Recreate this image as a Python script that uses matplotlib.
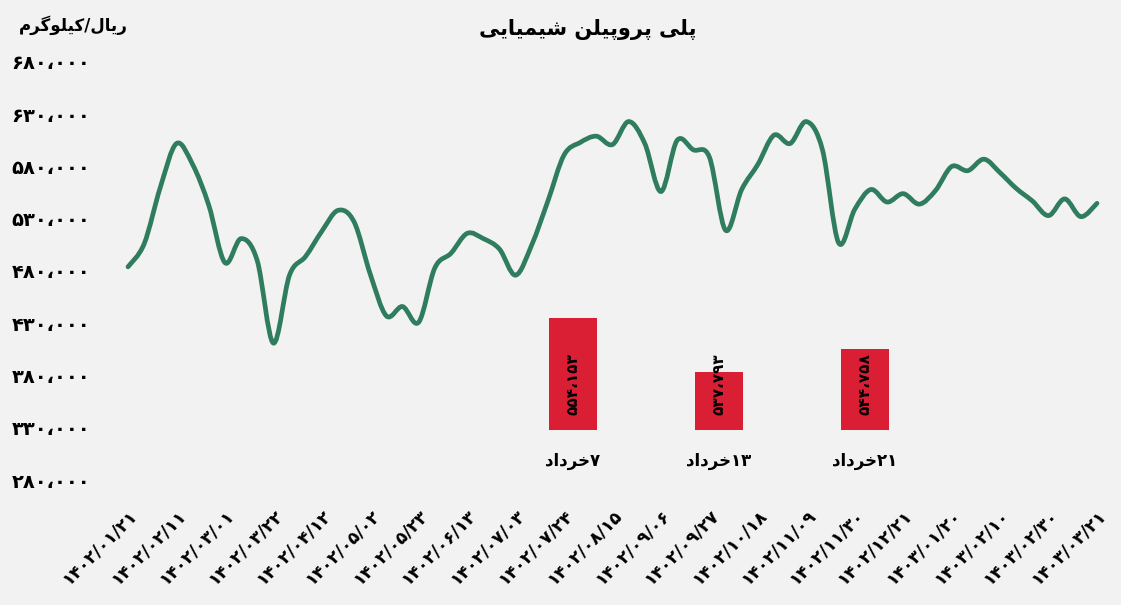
import re
import matplotlib
matplotlib.use("Agg")
import matplotlib.pyplot as plt
from matplotlib.path import Path
from matplotlib.patches import PathPatch

# ---- data ----
title = "پلی پروپیلن شیمیایی"
unit = "ریال/کیلوگرم"

date_labels = [
    "1402/01/21", "1402/02/11", "1402/03/01", "1402/03/22", "1402/04/12",
    "1402/05/02", "1402/05/23", "1402/06/13", "1402/07/03", "1402/07/24",
    "1402/08/15", "1402/09/06", "1402/09/27", "1402/10/18", "1402/11/09",
    "1402/11/30", "1402/12/21", "1403/01/20", "1403/02/10", "1403/02/30",
    "1403/03/21",
]
label_step = 3

prices = [
    484000, 506000, 560000, 602000, 582000, 543000, 488000, 511000, 490000, 411000,
    476000, 494000, 518000, 538000, 527000, 477000, 437000, 446000, 431000, 483000,
    497000, 516000, 511000, 501000, 476000, 505000, 547000, 591000, 603000, 609000,
    601000, 623000, 602000, 556000, 605000, 596000, 589000, 519000, 558000, 582000,
    610000, 602000, 623000, 596000, 507000, 539000, 558000, 546000, 554000, 544000,
    557000, 580000, 576000, 587000, 574000, 559000, 547000, 533000, 549000, 532000,
    544758,
]

y_ticks = list(range(280000, 680001, 50000))

bar_labels = ["۷خرداد", "۱۳خرداد", "۲۱خرداد"]
bar_values = [554153, 537793, 544758]

LINE_COLOR = "#2F7D5E"
BAR_COLOR = "#DA1F35"
BG = "#F2F2F2"

# ---- persian text helpers (matplotlib has no arabic shaping) ----
FORMS = {
    "ا": ("\uFE8D", "\uFE8E", None, None),
    "د": ("\uFEA9", "\uFEAA", None, None),
    "ر": ("\uFEAD", "\uFEAE", None, None),
    "و": ("\uFEED", "\uFEEE", None, None),
    "پ": ("\uFB56", "\uFB57", "\uFB58", "\uFB59"),
    "خ": ("\uFEA5", "\uFEA6", "\uFEA7", "\uFEA8"),
    "ش": ("\uFEB5", "\uFEB6", "\uFEB7", "\uFEB8"),
    "ل": ("\uFEDD", "\uFEDE", "\uFEDF", "\uFEE0"),
    "م": ("\uFEE1", "\uFEE2", "\uFEE3", "\uFEE4"),
    "ن": ("\uFEE5", "\uFEE6", "\uFEE7", "\uFEE8"),
    "ک": ("\uFB8E", "\uFB8F", "\uFB90", "\uFB91"),
    "گ": ("\uFB92", "\uFB93", "\uFB94", "\uFB95"),
    "ی": ("\uFBFC", "\uFBFD", "\uFBFE", "\uFBFF"),
}
FA_DIGITS = str.maketrans("0123456789,", "۰۱۲۳۴۵۶۷۸۹،")
DIGITS = "۰۱۲۳۴۵۶۷۸۹0123456789،,"


def shape(text):
    out = []
    for i, ch in enumerate(text):
        if ch not in FORMS:
            out.append(ch)
            continue
        prev = text[i - 1] if i > 0 else ""
        nxt = text[i + 1] if i + 1 < len(text) else ""
        joins_prev = prev in FORMS and FORMS[prev][2] is not None
        joins_next = FORMS[ch][2] is not None and nxt in FORMS
        iso, fin, ini, med = FORMS[ch]
        if joins_prev and joins_next:
            out.append(med)
        elif joins_prev:
            out.append(fin)
        elif joins_next:
            out.append(ini)
        else:
            out.append(iso)
    return "".join(out)


def rtl(text):
    s = shape(text)
    runs = re.findall(r"[۰-۹0-9،,]+|[^۰-۹0-9،,]+", s)
    return "".join(r if r[0] in DIGITS else r[::-1] for r in reversed(runs))


def fa_num(v):
    return f"{v:,}".translate(FA_DIGITS)


def smooth_path(xs, ys):
    # bezier segments through every point (excel-like smoothed line)
    pts = list(zip(xs, ys))
    n = len(pts)
    verts = [pts[0]]
    codes = [Path.MOVETO]
    for i in range(n - 1):
        p0 = pts[max(i - 1, 0)]
        p1 = pts[i]
        p2 = pts[i + 1]
        p3 = pts[min(i + 2, n - 1)]
        c1 = (p1[0] + (p2[0] - p0[0]) / 6, p1[1] + (p2[1] - p0[1]) / 6)
        c2 = (p2[0] - (p3[0] - p1[0]) / 6, p2[1] - (p3[1] - p1[1]) / 6)
        verts += [c1, c2, p2]
        codes += [Path.CURVE4] * 3
    return Path(verts, codes)


plt.rcParams["font.family"] = ["DejaVu Sans"]
plt.rcParams["font.weight"] = "bold"

W, H = 1121, 605
fig = plt.figure(figsize=(W / 100, H / 100), dpi=100, facecolor=BG)

# main line chart
ax = fig.add_axes([128 / W, 1 - 480 / H, (1097 - 128) / W, (480 - 62) / H])
ax.set_facecolor("none")
x = list(range(len(prices)))
ax.add_patch(PathPatch(smooth_path(x, prices), facecolor="none", edgecolor=LINE_COLOR,
                       lw=3.4, capstyle="round", joinstyle="round", clip_on=False))
ax.set_xlim(0, len(prices) - 1)
ax.set_ylim(280000, 680000)
ax.set_yticks(y_ticks)
ax.set_yticklabels([fa_num(v) for v in y_ticks], fontsize=14, fontweight="bold")
ax.set_xticks(x[::label_step])
ax.set_xticklabels([d.translate(FA_DIGITS) for d in date_labels], rotation=45,
                   ha="right", va="top", rotation_mode="anchor", fontsize=12.5,
                   fontweight="bold")
ax.tick_params(axis="y", length=0, pad=27)
ax.tick_params(axis="x", length=0, pad=19)
for s in ax.spines.values():
    s.set_visible(False)

# inset bars
bx = fig.add_axes([500 / W, 1 - 430 / H, 438 / W, 131 / H])
bx.set_facecolor("none")
bpos = list(range(len(bar_values)))
bx.bar(bpos, bar_values, width=0.33, color=BAR_COLOR, bottom=0)
bx.set_xlim(-0.5, len(bar_values) - 0.5)
bx.set_ylim(520000, 560000)
bx.set_yticks([])
bx.set_xticks(bpos)
bx.set_xticklabels([rtl(t) for t in bar_labels], fontsize=12, fontweight="bold")
bx.tick_params(axis="x", length=0, pad=16)
for s in bx.spines.values():
    s.set_visible(False)
for p, v in zip(bpos, bar_values):
    bx.annotate(fa_num(v), (p, 520000), xytext=(0, 11), textcoords="offset points",
                rotation=90, ha="center", va="bottom", fontsize=11,
                fontweight="bold", annotation_clip=False)

fig.text(588 / W, 1 - 30 / H, rtl(title), ha="center", va="center",
         fontsize=15, fontweight="bold")
fig.text(128 / W, 1 - 25 / H, rtl(unit), ha="right", va="center",
         fontsize=12, fontweight="bold")

fig.savefig("out.png", dpi=100, facecolor=BG)
